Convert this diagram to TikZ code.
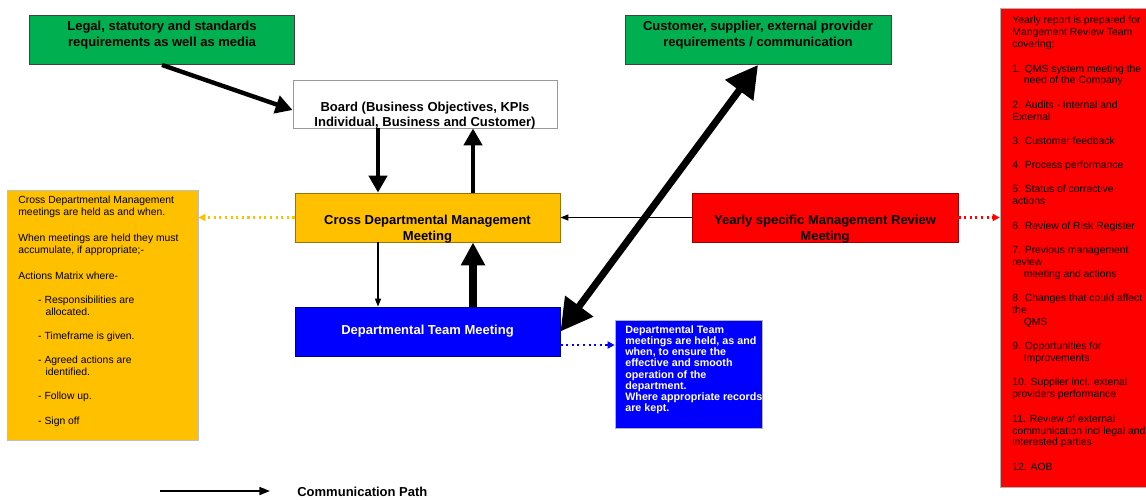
\documentclass[tikz,border=0pt]{standalone}
\usepackage{fontspec}
\setmainfont{Liberation Sans}
\usepackage{xcolor}
\usetikzlibrary{arrows.meta, calc, positioning}

\definecolor{qgreen}{HTML}{00B050}
\definecolor{qyellow}{HTML}{FFC000}
\definecolor{qblue}{HTML}{0000FF}
\definecolor{qred}{HTML}{FF0000}

\begin{document}
\begin{tikzpicture}[
    box/.style={draw=black!75, line width=0.5pt, minimum width=5.3cm, minimum height=0.98cm, inner sep=0pt},
    boxtext/.style={align=center, inner sep=0pt, font=\fontsize{7.4}{8.8}\selectfont\bfseries},
    note/.style={draw=black!25, line width=0.4pt, inner sep=0pt},
    notetext/.style={align=left, anchor=north west, inner sep=0pt, font=\fontsize{5.9}{6.8}\selectfont},
    thinarrow/.style={-{Triangle[length=4.5pt,width=3.4pt]}, line width=0.8pt},
    medarrow/.style={-{Triangle[length=9.6pt,width=10.2pt]}, line width=2.5pt},
    heavyarrow/.style={-{Triangle[length=13pt,width=13pt]}, line width=4pt},
    dotarrow/.style={-{Triangle[length=4pt,width=4pt]}, line width=1.2pt, dotted}
  ]
            \useasboundingbox (0,0) rectangle (22.92,-9.98);

            % Draw the main boxes
            \node[box, fill=qgreen] (legal) at (3.24,-0.80) {};
            \node[boxtext] (legal-t) at ([yshift=0.10cm]legal.center) {Legal, statutory and standards\\requirements as well as media};

            \node[box, fill=qgreen, minimum width=5.32cm] (cust) at (15.16,-0.80) {};
            \node[boxtext] (cust-t) at ([yshift=0.10cm]cust.center) {Customer, supplier, external provider\\requirements / communication};

            \node[box, draw=black!40, fill=white, minimum width=5.28cm, minimum height=0.96cm] (board) at (8.50,-2.08) {};
            \node[boxtext] (board-t) at ([yshift=-0.23cm]board.center) {Board (Business Objectives, KPIs\\Individual, Business and Customer)};

            \node[box, draw=qyellow!60!black, fill=qyellow] (cdm) at (8.55,-4.35) {};
            \node[boxtext] (cdm-t) at ([yshift=-0.23cm]cdm.center) {Cross Departmental Management\\Meeting};

            \node[box, draw=qblue!60!black, fill=qblue] (dtm) at (8.55,-6.63) {};
            \node[boxtext, text=white] (dtm-t) at (dtm.center) {Departmental Team Meeting};

            \node[box, draw=qred!60!black, fill=qred, minimum width=5.32cm] (yearly) at (16.50,-4.35) {};
            \node[boxtext] (yearly-t) at ([yshift=-0.23cm]yearly.center) {Yearly specific Management Review\\Meeting};

            % Draw the side notes
            \node[note, fill=qyellow, minimum width=3.82cm, minimum height=5.0cm] (cnote) at (2.05,-6.30) {};
            \node[notetext] (cnote-t) at (0.36,-3.92) {Cross Departmental Management\\
              meetings are held as and when.\\[8pt]
              When meetings are held they must\\
              accumulate, if appropriate;-\\[8pt]
              Actions Matrix where-\\[6.9pt]
              \hspace*{11.3pt}- Responsibilities are\\
              \hspace*{15.5pt}allocated.\\[6.9pt]
              \hspace*{11.3pt}- Timeframe is given.\\[6.9pt]
              \hspace*{11.3pt}- Agreed actions are\\
              \hspace*{15.5pt}identified.\\[6.9pt]
              \hspace*{11.3pt}- Follow up.\\[6.9pt]
              \hspace*{11.3pt}- Sign off};

            \node[note, draw=black!30, fill=qblue, minimum width=2.94cm, minimum height=2.16cm] (bnote) at (13.77,-7.48) {};
            \node[notetext, text=white, font=\fontsize{6.1}{6.4}\selectfont\bfseries] (bnote-t) at (12.50,-6.50) {Departmental Team\\
              meetings are held, as and\\
              when, to ensure the\\
              effective and smooth\\
              operation of the\\
              department.\\
              Where appropriate records\\
              are kept.};

            \node[note, draw=black!30, fill=qred, minimum width=3.2cm, minimum height=9.58cm] (rnote) at (21.6,-4.95) {};
            \node[notetext, font=\fontsize{5.9}{6.8}\selectfont] (rnote-t) at (20.24,-0.32) {Yearly report is prepared for\\
              Mangement Review Team\\
              covering:\\[7pt]
              1. QMS system meeting the\\
              \hspace*{1.1em}need of the Company\\[7pt]
              2. Audits - Internal and\\
              External\\[7pt]
              3. Customer feedback\\[7pt]
              4. Process performance\\[7pt]
              5. Status of corrective\\
              actions\\[7pt]
              6. Review of Risk Register\\[7pt]
              7. Previous management\\
              review\\
              \hspace*{1.1em}meeting and actions\\[7pt]
              8. Changes that could affect\\
              the\\
              \hspace*{1.1em}QMS\\[7pt]
              9. Opportunities for\\
              \hspace*{1.1em}Improvements\\[7pt]
              10. Supplier incl. extenal\\
              providers performance\\[7pt]
              11. Review of external\\
              communication incl legal and\\
              interested parties\\[7pt]
              12. AOB};

            % Communication paths
            \coordinate (dn) at (7.56,0);
            \coordinate (up) at (9.46,0);
            \draw[medarrow] (legal.south) -- ([yshift=-0.12cm]board.west);
            \draw[medarrow] (dn |- board.south) -- (dn |- cdm.north);
            \draw[medarrow] (up |- cdm.north) -- (up |- board.south);
            \draw[thinarrow] (dn |- cdm.south) -- (dn |- dtm.north);
            \draw[heavyarrow] (up |- dtm.north) -- (up |- cdm.south);
            \draw[line width=4pt, {Triangle[length=18pt,width=19pt]}-{Triangle[length=18pt,width=19pt]}] (dtm.east) -- (cust.south);
            \draw[thinarrow] (yearly.west) -- (cdm.east);

            % Dotted links to the notes
            \draw[dotarrow, qyellow] (cdm.west) -- (cdm.west -| cnote.east);
            \draw[dotarrow, qred] (yearly.east) -- (yearly.east -| rnote.west);
            \draw[dotarrow, qblue] ([yshift=-0.27cm]dtm.east) -- ([yshift=-0.27cm]dtm.east -| bnote.west);

            % Legend
            \coordinate (leg-a) at (3.2,-9.82);
            \node[anchor=west, inner sep=0pt, font=\fontsize{7.4}{8.8}\selectfont\bfseries] (legend) at (5.94,-9.84) {Communication Path};
            \draw[-{Triangle[length=6pt,width=4.5pt]}, line width=1pt] (leg-a) -- ++(2.2,0);
          \end{tikzpicture}
\end{document}
